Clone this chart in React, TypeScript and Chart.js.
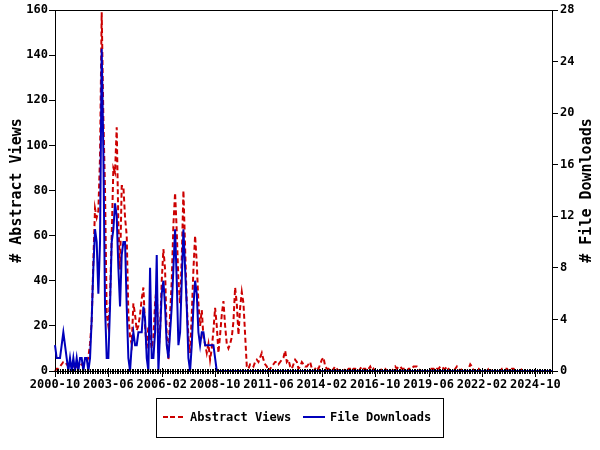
import React, { useEffect, useRef } from 'react';
import { Chart, registerables } from 'chart.js';

Chart.register(...registerables);

// Monthly categories starting 2000-10
const START_YEAR = 2000;
const START_MONTH = 10;
const MONTH_COUNT = 299;
const MONTHS: string[] = [];
for (let i = 0, y = START_YEAR, m = START_MONTH; i < MONTH_COUNT; i++) {
  MONTHS.push(`${y}-${String(m).padStart(2, '0')}`);
  m++;
  if (m > 12) { m = 1; y++; }
}

const TICK_LABELS = ['2000-10', '2003-06', '2006-02', '2008-10', '2011-06', '2014-02', '2016-10', '2019-06', '2022-02', '2024-10'];

const ABSTRACT_VIEWS = [
  0, 1, 1, 2, 3, 4, 4, 3, 2, 3, 2, 2, 3, 2, 3, 2, 3, 3, 4, 4, 6,
  12, 22, 49, 72, 68, 71, 95, 159, 112, 80, 25, 20, 32, 60, 90, 88, 108, 65, 45, 82, 82, 68, 60, 25, 15,
  12, 30, 25, 18, 20, 25, 32, 37, 20, 10, 20, 15, 10, 15, 30, 38, 8, 18, 40, 54, 45, 15, 5, 25, 40, 65, 79, 62, 40, 30, 50, 80, 55, 30, 15, 8, 25, 45, 60, 48, 30, 20, 27,
  15, 12, 8, 12, 5, 10, 18, 28, 20, 8, 16, 25, 31, 20, 12, 10, 12, 15, 22, 37, 30, 16, 28, 35, 30, 16, 2, 1, 3, 3, 2, 4, 5, 4, 6, 8, 5, 3, 2, 0,
  1, 2, 3, 4, 4, 3, 4, 5, 6, 9, 4, 5, 2, 1, 3, 5, 4, 1, 2, 4, 3, 2, 2, 3, 4, 1, 0, 1, 2, 1, 3, 5, 6, 2, 1, 1, 0, 0, 1, 2, 1, 0, 1, 0, 0, 1, 0, 1, 1, 0, 1, 1, 0, 0, 1, 2, 1, 1, 0, 1, 2,
  0, 1, 0, 0, 0, 0, 1, 1, 1, 0,
  1, 0, 0, 1, 2, 1, 2, 2, 1, 1,
  1, 0, 1, 1, 1, 2, 2, 2, 1, 0,
  0, 1, 0, 0, 0, 1, 1, 1, 0, 1,
  1, 2, 2, 1, 1, 2, 1, 0, 0, 0,
  1, 2, 1, 0, 1, 0, 0, 0, 1, 3,
  2, 0, 0, 1, 1, 0, 0, 0, 0, 0,
  1, 1, 0, 0, 0, 0, 0, 0, 1, 1,
  1, 1, 0, 0, 1, 1, 0, 0, 0, 0,
  1, 1, 0, 0, 0, 0, 0, 0, 0, 0,
  0, 0, 0, 0, 0, 0, 0, 0, 0,
];

const FILE_DOWNLOADS = [
  2, 1, 1, 1, 2, 3, 2, 1, 0, 1, 0, 1, 0, 1, 0, 1, 1, 0, 1, 1, 0,
  1, 4, 8, 11, 10, 6, 10, 25, 17, 5, 1, 1, 5, 10, 11, 13, 12, 8, 5, 9, 10, 10, 5, 1,
  0, 2, 3, 2, 2, 3, 3, 3, 5, 4, 1, 0, 8, 1, 1, 3, 9, 0, 3, 6, 7, 5, 2, 1, 3, 5, 8, 11, 7, 2, 3, 7, 11, 8, 5, 1, 0, 2, 5, 7, 6, 3, 2, 3,
  3, 2, 2, 2, 2, 2, 2, 1,
  0, 0, 0, 0, 0, 0, 0, 0, 0, 0, 0, 0, 0, 0, 0, 0, 0, 0, 0, 0,
  0, 0, 0, 0, 0, 0, 0, 0, 0, 0, 0, 0, 0, 0, 0, 0, 0, 0, 0, 0,
  0, 0, 0, 0, 0, 0, 0, 0, 0, 0, 0, 0, 0, 0, 0, 0, 0, 0, 0, 0,
  0, 0, 0, 0, 0, 0, 0, 0, 0, 0, 0, 0, 0, 0, 0, 0, 0, 0, 0, 0,
  0, 0, 0, 0, 0, 0, 0, 0, 0, 0, 0, 0, 0, 0, 0, 0, 0, 0, 0, 0,
  0, 0, 0, 0, 0, 0, 0, 0, 0, 0, 0, 0, 0, 0, 0, 0, 0, 0, 0, 0,
  0, 0, 0, 0, 0, 0, 0, 0, 0, 0, 0, 0, 0, 0, 0, 0, 0, 0, 0, 0,
  0, 0, 0, 0, 0, 0, 0, 0, 0, 0, 0, 0, 0, 0, 0, 0, 0, 0, 0, 0,
  0, 0, 0, 0, 0, 0, 0, 0, 0, 0, 0, 0, 0, 0, 0, 0, 0, 0, 0, 0,
  0, 0, 0, 0, 0, 0, 0, 0, 0, 0, 0, 0, 0, 0, 0, 0, 0, 0, 0, 0,
  0, 0,
];

const RED = '#cc0000';
const BLUE = '#0000bb';
const FONT_FAMILY = '"DejaVu Sans Mono", "Liberation Mono", monospace';

const framePlugin = {
  id: 'frameAndTicks',
  afterDraw(chart: any) {
    const { ctx, chartArea } = chart;
    const xs = chart.scales.x;
    const { left, right, top, bottom } = chartArea;
    ctx.save();
    ctx.strokeStyle = '#000';
    ctx.lineWidth = 1;
    // frame
    ctx.beginPath();
    ctx.moveTo(left + 0.5, top + 0.5);
    ctx.lineTo(right + 0.5, top + 0.5);
    ctx.moveTo(right + 0.5, top + 0.5);
    ctx.lineTo(right + 0.5, bottom + 0.5);
    ctx.stroke();
    // x ticks (monthly), major ones at labels
    ctx.beginPath();
    for (let i = 0; i < MONTHS.length; i++) {
      const x = Math.round(xs.getPixelForValue(i)) + 0.5;
      const major = TICK_LABELS.includes(MONTHS[i]);
      ctx.moveTo(x, bottom - (major ? 3 : 2));
      ctx.lineTo(x, bottom + (major ? 6 : 3));
    }
    ctx.stroke();
    // axis titles
    ctx.fillStyle = '#000';
    ctx.font = `bold 15px ${FONT_FAMILY}`;
    ctx.textAlign = 'center';
    ctx.textBaseline = 'middle';
    const cy = (top + bottom) / 2;
    ctx.save();
    ctx.translate(17, cy);
    ctx.rotate(-Math.PI / 2);
    ctx.fillText('# Abstract Views', 0, 0);
    ctx.restore();
    ctx.save();
    ctx.translate(587, cy);
    ctx.rotate(-Math.PI / 2);
    ctx.fillText('# File Downloads', 0, 0);
    ctx.restore();
    ctx.restore();
  },
};

export default function App() {
  const canvasRef = useRef<HTMLCanvasElement | null>(null);

  useEffect(() => {
    if (!canvasRef.current) return;
    const tickFont = { family: FONT_FAMILY, size: 12, weight: 'bold' as const, lineHeight: 1.2 };
    const chart = new Chart(canvasRef.current, {
      type: 'line',
      data: {
        labels: MONTHS,
        datasets: [
          {
            label: 'Abstract Views',
            data: ABSTRACT_VIEWS,
            yAxisID: 'y',
            borderColor: RED,
            backgroundColor: RED,
            borderWidth: 2,
            borderDash: [5, 3],
            pointRadius: 0,
            tension: 0,
            fill: false,
            order: 1,
          },
          {
            label: 'File Downloads',
            data: FILE_DOWNLOADS,
            yAxisID: 'y1',
            borderColor: BLUE,
            backgroundColor: BLUE,
            borderWidth: 2,
            pointRadius: 0,
            tension: 0,
            fill: false,
            order: 0,
          },
        ],
      },
      options: {
        responsive: false,
        animation: false,
        layout: { padding: { top: 10, left: 0, right: 0, bottom: 0 } },
        plugins: { legend: { display: false }, tooltip: { enabled: false } },
        scales: {
          x: {
            type: 'category',
            grid: { display: false, drawTicks: false },
            border: { display: true, color: '#000', width: 1 },
            ticks: {
              autoSkip: false,
              maxRotation: 0,
              minRotation: 0,
              color: '#000',
              font: tickFont,
              padding: 7,
              callback: (_v: any, i: number) => (TICK_LABELS.includes(MONTHS[i]) ? MONTHS[i] : ''),
            },
            afterFit: (s: any) => { s.height = 79; },
          },
          y: {
            position: 'left',
            min: 0,
            max: 160,
            ticks: { stepSize: 20, color: '#000', font: tickFont, padding: 1 },
            grid: { drawOnChartArea: false, tickLength: 6, color: '#000' },
            border: { color: '#000', width: 1 },
            afterFit: (s: any) => { s.width = 55; },
          },
          y1: {
            position: 'right',
            min: 0,
            max: 28,
            ticks: { stepSize: 4, color: '#000', font: tickFont, padding: 2 },
            grid: { drawOnChartArea: false, tickLength: 6, color: '#000' },
            border: { color: '#000', width: 1 },
            afterFit: (s: any) => { s.width = 48; },
          },
        },
      },
      plugins: [framePlugin],
    } as any);
    return () => chart.destroy();
  }, []);

  const legendText: React.CSSProperties = {
    position: 'absolute',
    top: 410,
    height: 15,
    lineHeight: '15px',
    fontFamily: FONT_FAMILY,
    fontWeight: 'bold',
    fontSize: 12,
    color: '#000',
    whiteSpace: 'nowrap',
  };

  return (
    <div style={{ position: 'absolute', left: 0, top: 0, width: 600, height: 450, background: '#fff' }}>
      <canvas ref={canvasRef} width={600} height={450} style={{ position: 'absolute', left: 0, top: 0 }} />
      <div style={{ position: 'absolute', left: 156, top: 398, width: 288, height: 40, border: '1px solid #000', boxSizing: 'border-box' }} />
      <div style={{ position: 'absolute', left: 163, top: 416, width: 20, height: 2, background: `repeating-linear-gradient(to right, ${RED} 0px, ${RED} 5px, transparent 5px, transparent 7.5px)` }} />
      <div style={{ ...legendText, left: 190 }}>Abstract Views</div>
      <div style={{ position: 'absolute', left: 303, top: 416, width: 22, height: 2, background: BLUE }} />
      <div style={{ ...legendText, left: 330 }}>File Downloads</div>
    </div>
  );
}
